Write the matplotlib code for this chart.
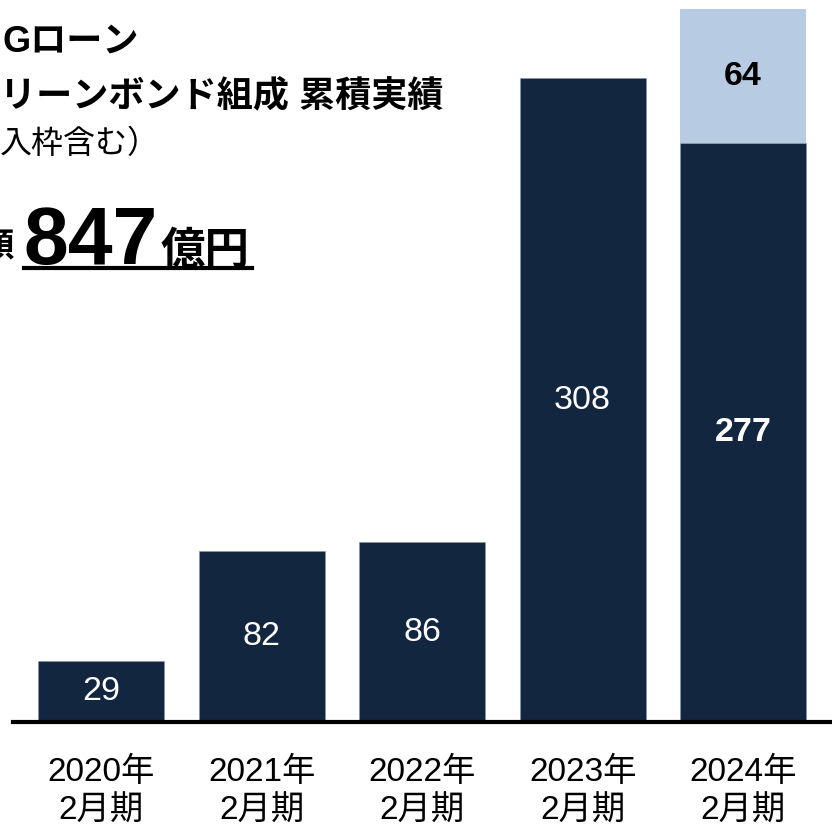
import matplotlib.pyplot as plt

plt.rcParams["font.family"] = ["Liberation Sans", "Noto Sans CJK JP", "DejaVu Sans"]

# Values (億円)
periods = ["2020年\n2月期", "2021年\n2月期", "2022年\n2月期", "2023年\n2月期", "2024年\n2月期"]
base_vals = [29, 82, 86, 308, 277]
extra_vals = [0, 0, 0, 0, 64]
total_amount = "847"

NAVY = "#13263f"
LIGHT = "#b7cbe3"

W, H = 832, 827
fig = plt.figure(figsize=(W / 100, H / 100), dpi=100)
ax = fig.add_axes([13 / W, 105 / H, 819 / W, 722 / H])

xs = list(range(len(periods)))
ax.bar(xs, base_vals, width=0.785, color=NAVY, edgecolor="#8a96a8", linewidth=0.4, zorder=2)
ax.bar(xs, extra_vals, bottom=base_vals, width=0.785, color=LIGHT, linewidth=0, zorder=2)

# value labels in bar centres
for i, (b, e) in enumerate(zip(base_vals, extra_vals)):
    last = i == len(base_vals) - 1
    ax.text(i, b / 2, str(b), ha="center", va="center", color="white",
            fontsize=24.5, fontweight="bold" if last else "normal", zorder=3)
    if e:
        ax.text(i, b + e / 2, str(e), ha="center", va="center", color="black",
                fontsize=24.5, fontweight="bold", zorder=3)

ax.set_xlim(-0.55, 4.554)
ax.set_ylim(0, 345.5)
ax.axhline(0, color="black", linewidth=3, zorder=4, clip_on=False)
for s in ax.spines.values():
    s.set_visible(False)
ax.set_yticks([])
ax.set_xticks(xs)
ax.set_xticklabels(periods, fontsize=24, linespacing=1.3)
ax.tick_params(axis="x", length=0, pad=25)

# title block (left part cut off in the source)
def px(x, y):
    return x / W, 1 - y / H

fig.text(*px(2, 42), "Gローン", ha="left", va="center", fontsize=26, fontweight="bold")
fig.text(*px(0, 97), "リーンボンド組成 累積実績", ha="left", va="center", fontsize=26, fontweight="bold")
fig.text(*px(0, 145), "入枠含む）", ha="left", va="center", fontsize=23)
fig.text(*px(14, 248), "額", ha="right", va="center", fontsize=24, fontweight="bold")
fig.text(*px(24, 264), total_amount, ha="left", va="baseline", fontsize=58, fontweight="bold")
fig.text(*px(160, 264), "億円", ha="left", va="baseline", fontsize=32, fontweight="bold")
fig.add_artist(plt.Line2D([24 / W, 252 / W], [1 - 268 / H, 1 - 268 / H],
                          color="black", linewidth=3, transform=fig.transFigure))

fig.savefig("out.png", dpi=100)
